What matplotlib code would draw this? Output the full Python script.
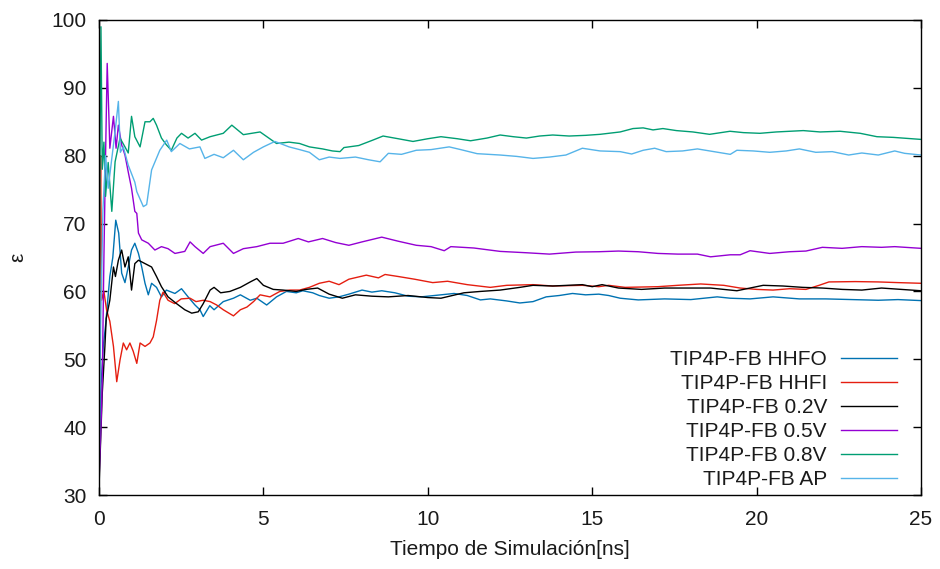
import matplotlib
matplotlib.use("Agg")
import matplotlib.pyplot as plt

plt.rcParams['font.family'] = ['Liberation Sans', 'DejaVu Sans']

# (tiempo [ns], epsilon)
hhfo = [(0, 32), (0.05, 45), (0.13, 51.9), (0.2, 55), (0.33, 62.2), (0.42, 65), (0.51, 70.5),
        (0.6, 68.6), (0.69, 62.7), (0.79, 61.3), (0.89, 63.6), (0.99, 66.1), (1.09, 67.1),
        (1.2, 65.6), (1.3, 63.6), (1.4, 61.2), (1.5, 59.5), (1.6, 61.2), (1.75, 60.6),
        (1.9, 59.2), (2.05, 60.2), (2.31, 59.7), (2.51, 60.4), (2.71, 59.2), (2.92, 58.0),
        (3.07, 57.3), (3.17, 56.3), (3.37, 57.9), (3.5, 57.3), (3.78, 58.5), (4.09, 59.0),
        (4.3, 59.5), (4.6, 58.7), (4.8, 59.0), (5.1, 58.0), (5.4, 59.2), (5.7, 60.0),
        (6.0, 59.8), (6.2, 60.1), (6.5, 59.8), (6.7, 59.4), (7.0, 59.0), (7.3, 59.2),
        (7.6, 59.6), (8.0, 60.2), (8.3, 59.9), (8.6, 60.1), (9.0, 59.8), (9.4, 59.3),
        (9.8, 59.2), (10.4, 59.5), (10.8, 59.7), (11.2, 59.4), (11.6, 58.75), (11.9, 58.9),
        (12.4, 58.6), (12.8, 58.3), (13.2, 58.5), (13.6, 59.2), (14.0, 59.4), (14.4, 59.7),
        (14.8, 59.5), (15.2, 59.6), (15.5, 59.4), (15.85, 59.0), (16.4, 58.75), (17.2, 58.9),
        (18.0, 58.8), (18.8, 59.2), (19.2, 59.0), (19.8, 58.9), (20.5, 59.2), (21.3, 58.9),
        (22.1, 58.9), (22.9, 58.8), (23.7, 58.7), (24.3, 58.8), (25, 58.65)]

hhfi = [(0, 33), (0.03, 70), (0.05, 80), (0.08, 58.7), (0.15, 60), (0.23, 57.3), (0.33, 55.6),
        (0.44, 51.9), (0.54, 46.7), (0.64, 49.9), (0.74, 52.4), (0.84, 51.4), (0.94, 52.4),
        (1.04, 51.2), (1.15, 49.4), (1.25, 52.4), (1.4, 51.9), (1.55, 52.4), (1.65, 53.3),
        (1.75, 55.7), (1.85, 58.7), (1.95, 59.9), (2.1, 58.7), (2.3, 58.2), (2.5, 58.9),
        (2.77, 59.0), (2.95, 58.5), (3.17, 58.7), (3.38, 58.5), (3.58, 58.0), (3.78, 57.3),
        (4.09, 56.4), (4.3, 57.3), (4.5, 57.7), (4.7, 58.5), (4.9, 59.5), (5.2, 59.2),
        (5.5, 60.0), (5.8, 60.2), (6.1, 60.2), (6.4, 60.6), (6.7, 61.2), (7.0, 61.5),
        (7.3, 61.0), (7.6, 61.8), (8.13, 62.4), (8.5, 62.0), (8.7, 62.5), (9.1, 62.2),
        (9.6, 61.8), (10.15, 61.3), (10.6, 61.5), (11.2, 61.0), (11.9, 60.6), (12.4, 60.9),
        (13.2, 61.0), (13.8, 60.8), (14.7, 60.9), (15.2, 60.7), (15.5, 60.9), (16.0, 60.6),
        (17.0, 60.7), (17.6, 60.9), (18.3, 61.1), (19.0, 60.9), (19.5, 60.5), (20.0, 60.3),
        (20.5, 60.2), (21.0, 60.4), (21.5, 60.3), (21.9, 60.9), (22.2, 61.4), (23.0, 61.45),
        (23.7, 61.4), (24.3, 61.3), (25, 61.2)]

v02 = [(0, 31), (0.1, 45), (0.18, 51.9), (0.22, 56), (0.33, 58.7), (0.44, 63.6), (0.5, 62.2),
       (0.59, 64.6), (0.69, 66.1), (0.79, 63.6), (0.89, 65.1), (0.99, 60.2), (1.09, 64.1),
       (1.2, 64.6), (1.4, 64.1), (1.6, 63.6), (1.75, 62.2), (1.9, 60.7), (2.1, 59.2),
       (2.36, 58.2), (2.61, 57.3), (2.82, 56.8), (3.02, 57.0), (3.17, 58.2), (3.38, 60.2),
       (3.5, 60.6), (3.7, 59.8), (3.98, 60.0), (4.3, 60.6), (4.6, 61.4), (4.8, 61.9),
       (5.0, 60.9), (5.3, 60.3), (5.6, 60.2), (6.0, 60.0), (6.3, 60.3), (6.65, 60.5),
       (7.0, 59.6), (7.4, 59.0), (7.8, 59.5), (8.3, 59.3), (8.8, 59.2), (9.4, 59.4),
       (10.0, 59.1), (10.4, 59.0), (11.1, 59.8), (11.6, 60.0), (12.2, 60.2), (12.8, 60.6),
       (13.2, 60.9), (13.8, 60.8), (14.7, 61.0), (15.0, 60.7), (15.3, 61.0), (15.8, 60.5),
       (16.5, 60.3), (17.2, 60.5), (18.0, 60.5), (18.6, 60.5), (19.4, 60.1), (19.8, 60.5),
       (20.2, 60.9), (20.8, 60.8), (21.4, 60.6), (22.0, 60.5), (22.6, 60.3), (23.2, 60.2),
       (23.8, 60.5), (24.4, 60.3), (25, 60.1)]

v05 = [(0, 32), (0.06, 40), (0.1, 47), (0.15, 65), (0.2, 80), (0.25, 93.6), (0.3, 86),
       (0.33, 81.1), (0.44, 85.8), (0.48, 83.5), (0.52, 81.1), (0.59, 84.5), (0.69, 81.6),
       (0.79, 80.1), (0.89, 77.6), (0.99, 75.2), (1.09, 71.8), (1.15, 71.5), (1.2, 68.6),
       (1.3, 67.6), (1.5, 67.1), (1.7, 66.1), (1.9, 66.6), (2.1, 66.3), (2.31, 65.6),
       (2.61, 65.9), (2.77, 67.3), (2.92, 66.6), (3.17, 65.6), (3.38, 66.6), (3.78, 67.1),
       (4.09, 65.6), (4.39, 66.3), (4.8, 66.6), (5.2, 67.1), (5.6, 67.1), (6.06, 67.8),
       (6.37, 67.3), (6.8, 67.8), (7.2, 67.2), (7.6, 66.8), (8.0, 67.3), (8.6, 68.0),
       (9.1, 67.4), (9.65, 66.8), (10.1, 66.6), (10.5, 66.0), (10.7, 66.6), (11.4, 66.4),
       (12.2, 65.9), (13.0, 65.7), (13.7, 65.5), (14.5, 65.8), (15.2, 65.85), (15.8, 65.95),
       (16.4, 65.85), (17.0, 65.6), (17.6, 65.5), (18.2, 65.5), (18.6, 65.1), (19.2, 65.4),
       (19.5, 65.4), (19.8, 66.0), (20.4, 65.6), (21.0, 65.85), (21.5, 65.95), (22.0, 66.5),
       (22.6, 66.35), (23.2, 66.6), (23.8, 66.5), (24.2, 66.6), (25, 66.35)]

v08 = [(0, 30), (0.03, 80), (0.06, 99), (0.1, 78), (0.15, 82), (0.2, 74), (0.28, 79),
       (0.39, 71.8), (0.49, 79.1), (0.64, 82.6), (0.79, 81.3), (0.89, 80.4), (0.99, 85.8),
       (1.09, 82.8), (1.25, 81.3), (1.4, 85.0), (1.55, 85.0), (1.65, 85.5), (1.75, 84.5),
       (1.9, 82.6), (2.05, 81.6), (2.2, 80.8), (2.37, 82.6), (2.51, 83.3), (2.71, 82.6),
       (2.92, 83.3), (3.12, 82.3), (3.38, 82.8), (3.78, 83.3), (4.04, 84.5), (4.39, 83.1),
       (4.9, 83.5), (5.4, 81.8), (5.78, 82.0), (6.1, 81.8), (6.4, 81.3), (6.8, 81.0),
       (7.1, 80.7), (7.33, 80.6), (7.45, 81.2), (7.9, 81.5), (8.33, 82.3), (8.64, 82.9),
       (9.1, 82.5), (9.55, 82.1), (10.0, 82.5), (10.4, 82.8), (10.9, 82.5), (11.3, 82.2),
       (11.8, 82.6), (12.2, 83.05), (12.6, 82.8), (13.0, 82.6), (13.4, 82.9), (13.8, 83.05),
       (14.3, 82.9), (14.8, 83.0), (15.24, 83.15), (15.85, 83.5), (16.24, 84.0), (16.55, 84.1),
       (16.85, 83.8), (17.15, 84.0), (17.56, 83.7), (18.06, 83.5), (18.57, 83.15), (19.19, 83.6),
       (19.6, 83.4), (20.1, 83.3), (20.6, 83.5), (21.42, 83.7), (21.93, 83.5), (22.54, 83.6),
       (23.15, 83.3), (23.66, 82.8), (24.16, 82.7), (25, 82.4)]

ap = [(0, 32), (0.05, 55), (0.12, 72), (0.2, 80), (0.28, 75.2), (0.4, 80), (0.5, 84),
      (0.59, 88.0), (0.65, 80.5), (0.74, 81.3), (0.89, 78.6), (1.09, 76.1), (1.15, 74.7),
      (1.35, 72.5), (1.45, 72.8), (1.6, 77.9), (1.85, 80.8), (2.06, 82.3), (2.2, 80.6),
      (2.46, 81.8), (2.75, 81.0), (3.07, 81.3), (3.22, 79.6), (3.5, 80.2), (3.78, 79.7),
      (4.09, 80.8), (4.39, 79.4), (4.7, 80.5), (5.0, 81.3), (5.35, 82.1), (5.78, 81.3),
      (6.1, 80.9), (6.4, 80.5), (6.7, 79.4), (7.0, 79.8), (7.33, 79.6), (7.8, 79.8),
      (8.2, 79.4), (8.55, 79.1), (8.8, 80.35), (9.2, 80.2), (9.65, 80.8), (10.1, 80.9),
      (10.65, 81.3), (11.0, 80.9), (11.5, 80.3), (12.2, 80.1), (12.7, 79.9), (13.2, 79.6),
      (13.7, 79.8), (14.2, 80.1), (14.7, 81.1), (15.24, 80.7), (15.85, 80.6), (16.2, 80.25),
      (16.55, 80.8), (16.9, 81.1), (17.25, 80.6), (17.75, 80.7), (18.2, 81.0), (18.7, 80.6),
      (19.2, 80.2), (19.4, 80.8), (19.9, 80.7), (20.4, 80.5), (20.9, 80.7), (21.3, 81.0),
      (21.8, 80.5), (22.3, 80.6), (22.8, 80.1), (23.2, 80.4), (23.7, 80.1), (24.2, 80.7),
      (24.5, 80.35), (25, 80.1)]

labels = ['TIP4P-FB HHFO', 'TIP4P-FB HHFI', 'TIP4P-FB 0.2V',
          'TIP4P-FB 0.5V', 'TIP4P-FB 0.8V', 'TIP4P-FB AP']
colors = ['#0072b2', '#e51e10', '#000000', '#9400d3', '#009e73', '#56b4e9']
series = [hhfo, hhfi, v02, v05, v08, ap]

fig = plt.figure(figsize=(9.4, 5.69), dpi=100)
ax = fig.add_axes([0.1053, 0.130, 0.8745, 0.8349])

for data, lab, col in zip(series, labels, colors):
    t = [p[0] for p in data]
    v = [p[1] for p in data]
    ax.plot(t, v, color=col, lw=1.0, label=lab)

ax.set_xlim(0, 25)
ax.set_ylim(30, 100)
ax.set_xticks(range(0, 26, 5))
ax.set_yticks(range(30, 101, 10))
ax.tick_params(direction='in', length=6, width=1, labelsize=15, pad=9,
               top=True, right=True, labelcolor='#1a1a1a')
ax.tick_params(axis='x', pad=11)
for s in ax.spines.values():
    s.set_linewidth(1.0)

ax.set_xlabel('Tiempo de Simulación[ns]', fontsize=15, labelpad=8, color='#1a1a1a')
ax.set_ylabel('ε', fontsize=15, labelpad=17, color='#1a1a1a')

leg = ax.legend(loc='lower right', bbox_to_anchor=(0.9705, 0.012), frameon=False,
                markerfirst=False, fontsize=15, handlelength=2.7, handletextpad=0.65,
                labelspacing=0.24, borderpad=0, borderaxespad=0)
for txt in leg.get_texts():
    txt.set_color('#1a1a1a')

fig.savefig('out.png', dpi=100)
